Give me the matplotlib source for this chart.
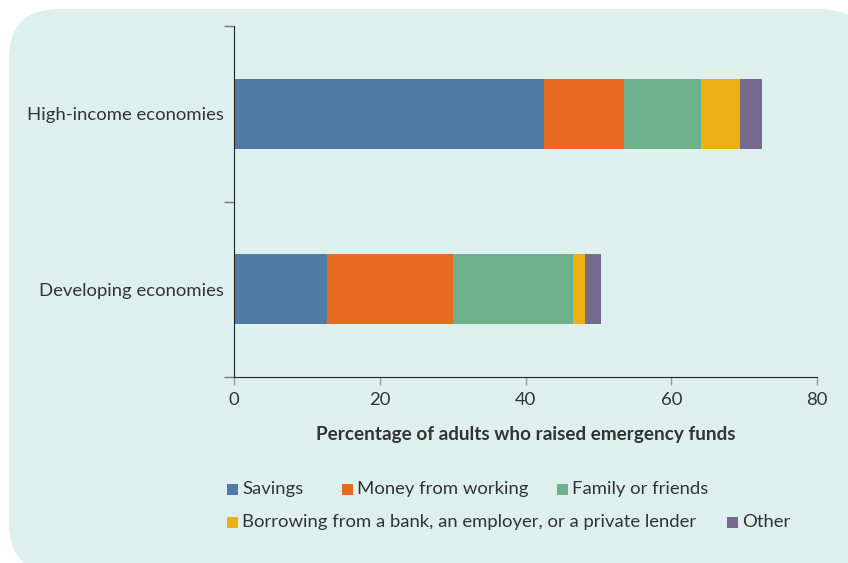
import matplotlib.pyplot as plt
import numpy as np
from matplotlib.patches import FancyBboxPatch, Rectangle

plt.rcParams['font.family'] = ['Lato', 'DejaVu Sans']

# Share of adults by main source of emergency funds (percent)
groups = ['Developing economies', 'High-income economies']
sources = ['Savings', 'Money from working', 'Family or friends',
           'Borrowing from a bank, an employer, or a private lender', 'Other']
savings = [12.8, 42.6]
working = [17.3, 10.9]
family = [16.4, 10.6]
borrowing = [1.7, 5.3]
other = [2.2, 3.1]

colors = ['#4E7BA6', '#E86A20', '#6DB08A', '#EFB013', '#766A8E']
bg = '#DDF0EE'
text_col = '#333333'

W, H = 848, 563
fig = plt.figure(figsize=(W / 100, H / 100), dpi=100)

# rounded panel behind everything
panel = FancyBboxPatch((0.09, -0.1), 8.6, 5.64,
                       boxstyle='round,pad=0,rounding_size=0.5',
                       transform=fig.dpi_scale_trans, facecolor=bg,
                       edgecolor='none', zorder=-10)
fig.add_artist(panel)

ax = fig.add_axes([234 / W, 1 - 377 / H, (817 - 234) / W, (377 - 26) / H])
ax.set_facecolor('none')

y = np.arange(len(groups))
left = np.zeros(len(groups))
for vals, c in zip([savings, working, family, borrowing, other], colors):
    ax.barh(y, vals, left=left, height=0.4, color=c, edgecolor='none')
    left += np.array(vals)

ax.set_xlim(0, 80)
ax.set_ylim(-0.5, 1.5)
ax.set_xticks([0, 20, 40, 60, 80])
ax.set_yticks(y)
ax.set_yticklabels(groups)
# small ticks between the groups instead of at the labels
ax.set_yticks([-0.5, 0.5, 1.5], minor=True)
ax.tick_params(axis='y', which='major', length=0, pad=7,
               labelsize=13.3, labelcolor=text_col)
ax.tick_params(axis='y', which='minor', length=7, width=1, color='#777777')
ax.tick_params(axis='x', length=6, width=1, color='#999999', pad=5,
               labelsize=13.3, labelcolor=text_col)
for s in ['top', 'right']:
    ax.spines[s].set_visible(False)
ax.spines['left'].set_color('#222222')
ax.spines['bottom'].set_color('#222222')
ax.set_xlabel('Percentage of adults who raised emergency funds',
              fontsize=13.6, fontweight='bold', color=text_col, labelpad=13)

# legend, two rows laid out by hand
legend_items = [
    (sources[0], colors[0], 227, 489),
    (sources[1], colors[1], 342, 489),
    (sources[2], colors[2], 557, 489),
    (sources[3], colors[3], 227, 522),
    (sources[4], colors[4], 727, 522),
]
for label, c, px, py in legend_items:
    fig.add_artist(Rectangle((px / W, 1 - (py + 5.5) / H), 11 / W, 11 / H,
                             transform=fig.transFigure, facecolor=c,
                             edgecolor='none'))
    fig.text((px + 15) / W, 1 - py / H, label, fontsize=13.3,
             color=text_col, va='center', ha='left')

fig.savefig('out.png', dpi=100)
